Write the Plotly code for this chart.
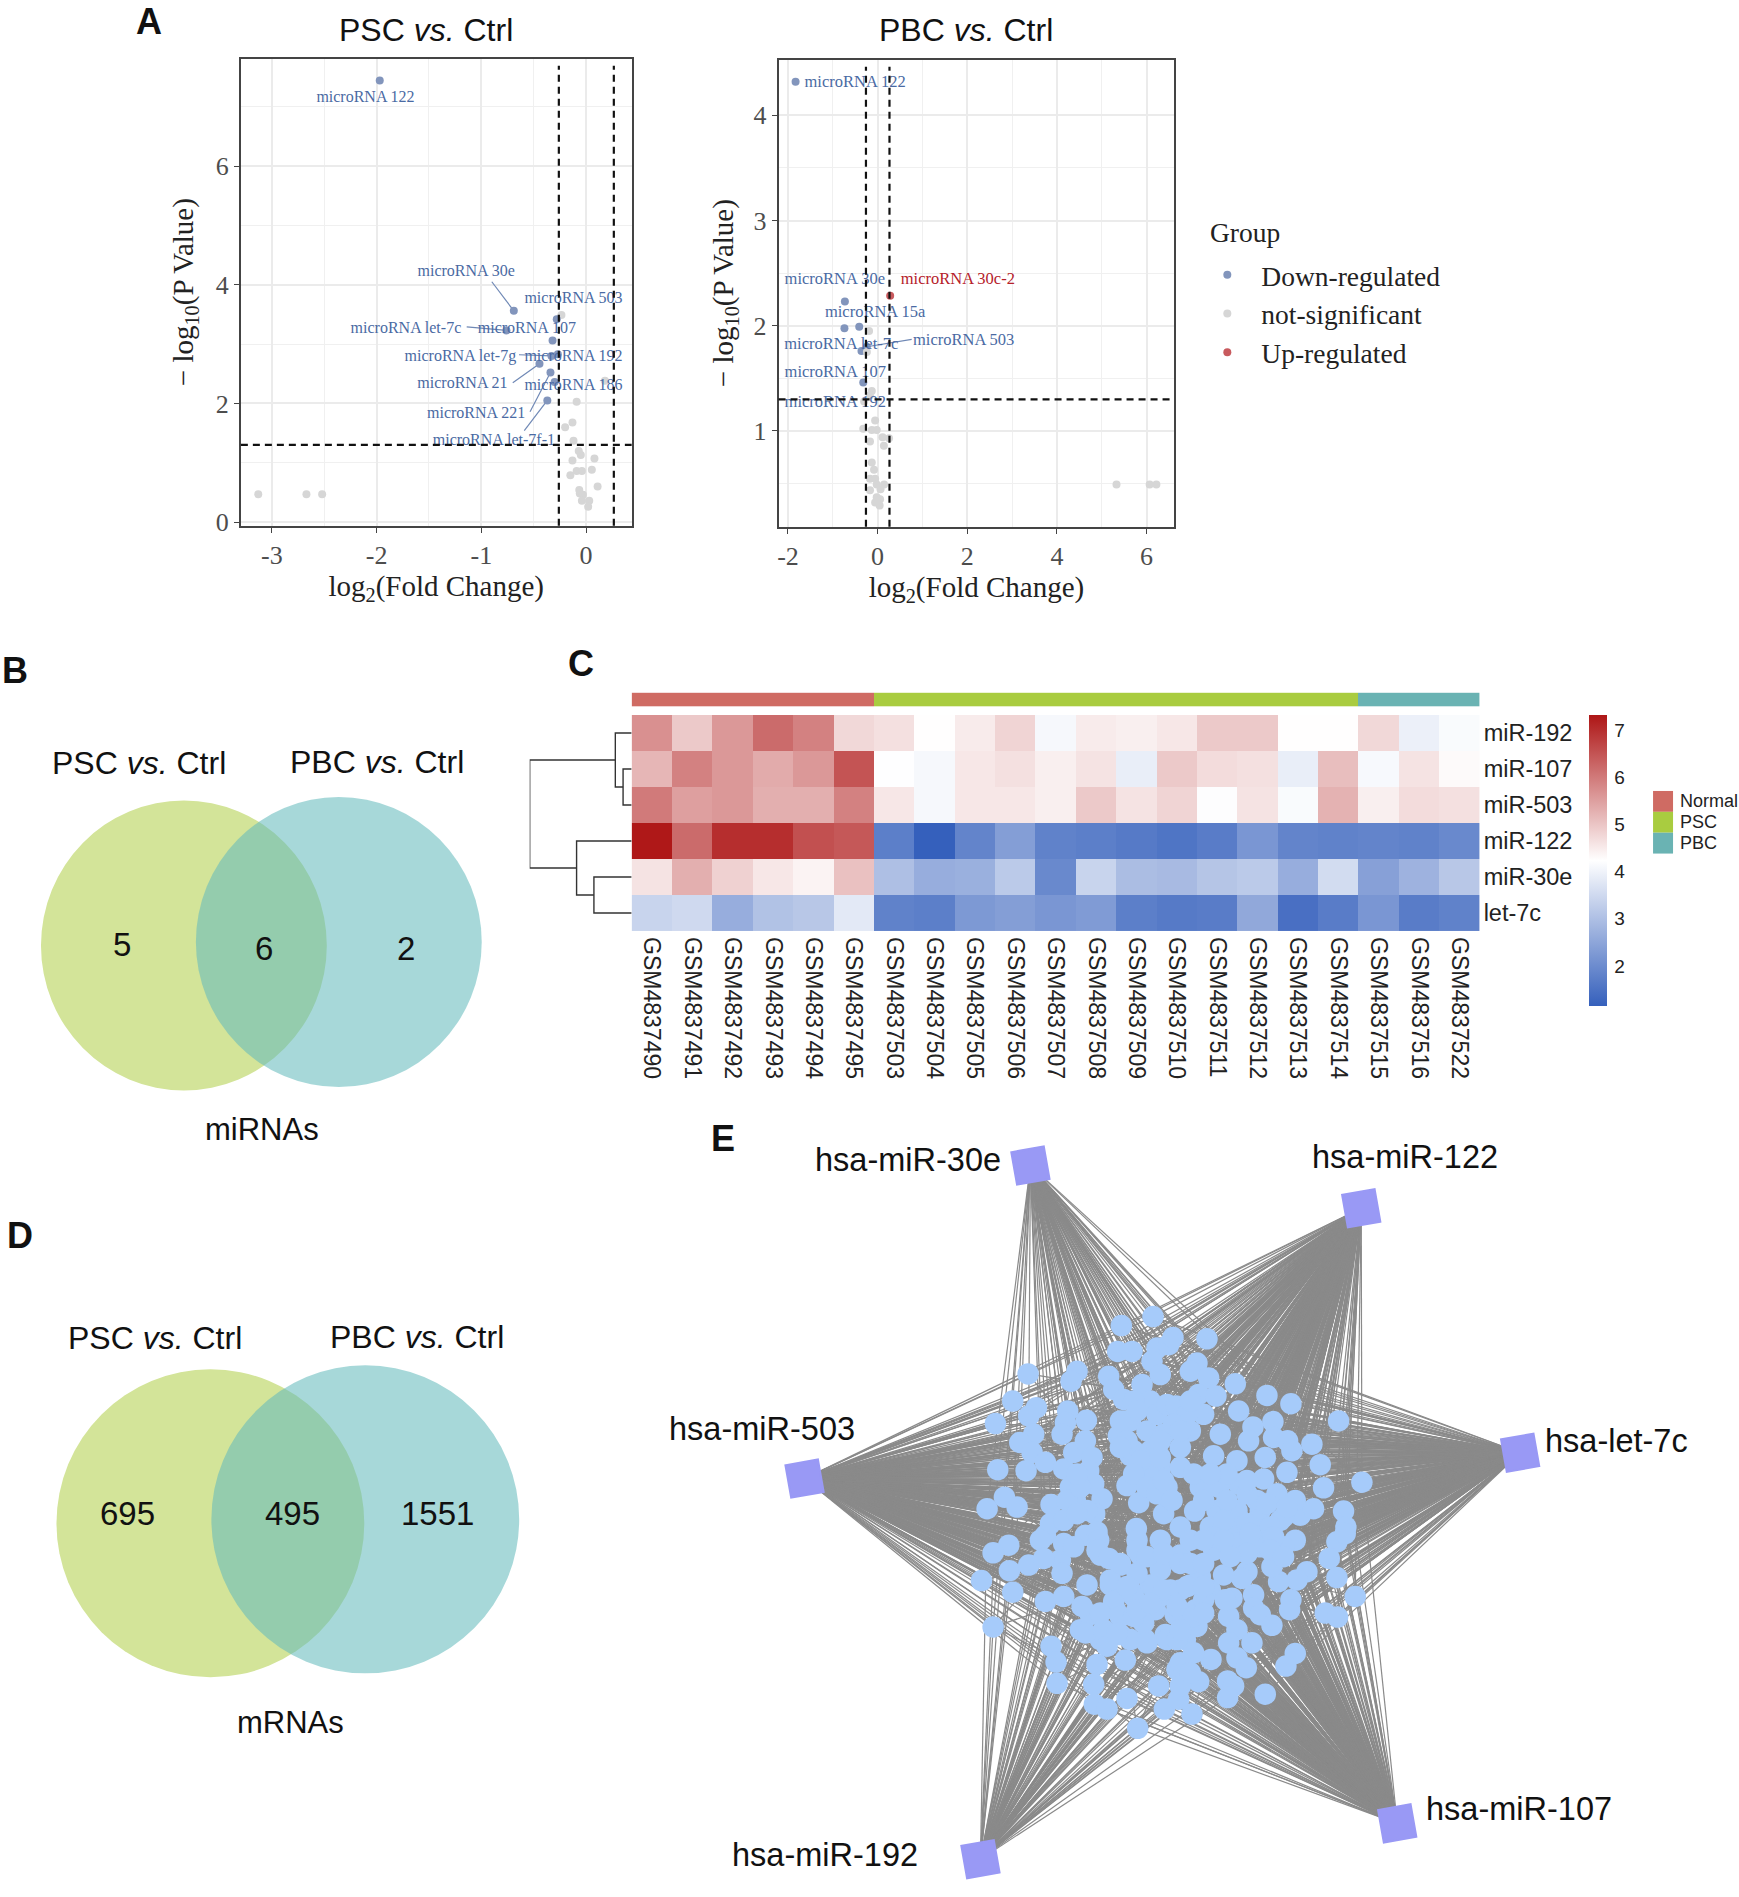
import plotly.graph_objects as go

W, H = 1739, 1897

# ---------- Panel A data ----------
psc_down_x = [-1.97, -0.69, -0.28, -0.76, -0.32, -0.27, -0.33, -0.445, -0.34, -0.30, -0.37]
psc_down_y = [7.44, 3.56, 3.42, 3.23, 3.06, 2.83, 2.80, 2.67, 2.52, 2.36, 2.05]
psc_ns_x = [-0.235, 0.18, -0.09, -0.13, -0.2, -0.12, -0.07, -0.05, 0.08, -0.13, -0.09, -0.04, 0.055, -0.15,
            0.11, -0.065, -0.06, -0.03, -0.04, 0.03, 0.02, -3.13, -2.67, -2.52]
psc_ns_y = [3.49, 2.38, 2.03, 1.68, 1.60, 1.37, 1.20, 1.13, 1.07, 1.04, 0.86, 0.86, 0.88, 0.79,
            0.60, 0.54, 0.48, 0.46, 0.36, 0.36, 0.26, 0.47, 0.47, 0.47]
psc_labels = ["microRNA 122", "microRNA 30e", "microRNA 503", "microRNA let-7c", "microRNA 107", "microRNA let-7g",
              "microRNA 192", "microRNA 21", "microRNA 186", "microRNA 221", "microRNA let-7f-1"]
psc_label_x = [-2.106, -1.145, -0.12, -1.72, -0.565, -1.2, -0.12, -1.18, -0.12, -1.05, -0.88]
psc_label_y = [7.15, 4.22, 3.76, 3.26, 3.26, 2.79, 2.78, 2.33, 2.29, 1.82, 1.36]
psc_conn_x = [-0.90, -0.69, None, -1.14, -0.76, None, -0.64, -0.33, None, -0.70, -0.445, None, -0.535, -0.34, None, -0.59, -0.37]
psc_conn_y = [4.05, 3.56, None, 3.29, 3.23, None, 2.82, 2.80, None, 2.35, 2.67, None, 1.86, 2.52, None, 1.54, 2.05]

pbc_down_x = [-1.83, -0.73, -0.41, -0.74, -0.36, -0.24, -0.32]
pbc_down_y = [4.32, 2.23, 1.99, 1.975, 1.76, 1.80, 1.46]
pbc_ns_x = [-0.19, -0.24, -0.13, -0.17, -0.3, -0.055, -0.32, -0.13, -0.02, -0.17, 0.11, 0.255, 0.14, -0.13, -0.08,
            -0.17, -0.055, -0.02, 0.145, 0.065, -0.17, -0.02, 0.055, -0.055, 0.045, 5.33, 6.07, 6.22]
pbc_ns_y = [1.95, 1.75, 1.38, 1.34, 1.28, 1.10, 1.02, 1.01, 1.01, 0.90, 0.94, 0.93, 0.86, 0.70, 0.63,
            0.545, 0.545, 0.49, 0.49, 0.445, 0.435, 0.37, 0.35, 0.32, 0.29, 0.49, 0.49, 0.49]
pbc_up_x = [0.28]
pbc_up_y = [2.285]
pbc_labels = ["microRNA 122", "microRNA 30e", "microRNA 15a", "microRNA let-7c", "microRNA 503", "microRNA 107", "microRNA 192"]
pbc_label_x = [-0.5, -0.955, -0.055, -0.81, 1.92, -0.945, -0.945]
pbc_label_y = [4.31, 2.44, 2.12, 1.82, 1.86, 1.55, 1.27]
pbc_up_label = ["microRNA 30c-2"]
pbc_up_label_x = [1.79]
pbc_up_label_y = [2.44]
pbc_conn_x = [0.76, -0.24]
pbc_conn_y = [1.87, 1.80]

fc_cut = [-0.26, 0.265]
p_cut = 1.30

# ---------- Panel C data ----------
samples = ["GSM4837490", "GSM4837491", "GSM4837492", "GSM4837493", "GSM4837494", "GSM4837495", "GSM4837503",
           "GSM4837504", "GSM4837505", "GSM4837506", "GSM4837507", "GSM4837508", "GSM4837509", "GSM4837510",
           "GSM4837511", "GSM4837512", "GSM4837513", "GSM4837514", "GSM4837515", "GSM4837516", "GSM4837522"]
mirnas = ["miR-192", "miR-107", "miR-503", "miR-122", "miR-30e", "let-7c"]
mir192 = [5.7, 4.95, 5.6, 6.2, 5.9, 4.75, 4.65, 4.25, 4.5, 4.8, 4.1, 4.5, 4.45, 4.55, 4.95, 4.95, 4.25, 4.25, 4.75, 3.95, 4.15]
mir107 = [5.2, 5.9, 5.6, 5.35, 5.6, 6.5, 4.22, 4.1, 4.55, 4.65, 4.45, 4.6, 3.9, 4.95, 4.7, 4.65, 3.9, 5.1, 4.12, 4.6, 4.3]
mir503 = [6.0, 5.5, 5.6, 5.3, 5.3, 5.9, 4.55, 4.1, 4.55, 4.55, 4.45, 4.95, 4.6, 4.8, 4.2, 4.6, 4.15, 5.25, 4.45, 4.7, 4.65]
mir122 = [7.3, 6.2, 7.0, 7.0, 6.55, 6.45, 1.75, 1.15, 1.85, 2.35, 1.8, 1.75, 1.65, 1.55, 1.7, 2.2, 1.85, 1.8, 1.85, 1.8, 1.95]
mir30e = [4.6, 5.3, 4.85, 4.55, 4.4, 5.05, 3.0, 2.65, 2.7, 3.2, 1.95, 3.4, 2.95, 2.9, 3.1, 3.2, 2.65, 3.55, 2.4, 2.75, 3.15]
let7c = [3.4, 3.5, 2.65, 3.05, 3.15, 3.8, 1.8, 1.75, 2.25, 2.35, 2.2, 2.3, 1.75, 1.65, 1.7, 2.55, 1.45, 1.7, 2.2, 1.7, 1.8]
sample_group = [0] * 6 + [1] * 12 + [2] * 3
group_names = ["Normal", "PSC", "PBC"]
group_colors = ["#CF6B63", "#A9CC40", "#6AB3B3"]
dend_x = [0, 0.084, 0.084, 0, None, 0, 0.16, 0.16, 0.084, None, 0, 0.37, 0.37, 0, None,
          0, 0.54, 0.54, 0.37, None, 0.16, 1.0, 1.0, 0.54]
dend_y = [1, 1, 2, 2, None, 0, 0, 1.5, 1.5, None, 4, 4, 5, 5, None, 3, 3, 4.5, 4.5, None, 0.75, 0.75, 3.75, 3.75]

# ---------- Panels B, D data ----------
venn_b_counts = ["5", "6", "2"]
venn_d_counts = ["695", "495", "1551"]

# ---------- Panel E data: node positions read per quadrant of the network picture, 3 units = 1 pixel ----------
hub_names = ["hsa-miR-30e", "hsa-miR-122", "hsa-let-7c", "hsa-miR-107", "hsa-miR-192", "hsa-miR-503"]
hub_x = [1030, 1361, 1520, 1397, 980, 804]
hub_y = [1173, 1216, 1462, 1835, 1871, 1488]
quad_nw = [(203,218),(157,300),(105,368),(350,210),(332,240),(483,72),(578,45),(472,150),(515,150),(590,140),(575,180),
           (445,225),(460,265),(490,295),(545,250),(600,220),(570,300),(520,300),(228,320),(205,345),(322,330),(315,365),
           (378,358),(305,400),(220,400),(178,425),(215,455),(255,485),(112,507),(197,510),(310,505),(340,455),(375,420),
           (395,470),(385,510),(480,400),(510,360),(560,390),(610,400),(520,450),(570,450),(500,555),(550,530),(600,500),
           (330,560),(400,550),(425,595),(345,600),(403,640),(272,612),(132,590),(170,620),(80,625),(535,607),(270,670),
           (310,660),(410,695),(528,685),(610,640),(625,590),(590,340),(620,310),(530,330),(625,130),(480,360),(590,450),(580,510),
           (540,480),(600,470),(500,420),(600,420),(480,440),(520,520),(560,560),(620,560),(320,600),(360,560),(380,630),(350,640),
           (590,580),(610,540),(350,520)]
quad_ne = [(8,108),(110,112),(80,185),(60,210),(115,230),(195,248),(85,280),(137,285),(290,283),(362,308),(505,360),(18,315),
           (205,330),(100,340),(50,340),(10,370),(60,390),(308,362),(248,378),(150,400),(235,420),(310,410),(352,420),(425,430),
           (365,450),(130,465),(200,480),(285,470),(450,492),(350,515),(575,545),(460,562),(30,440),(30,500),(90,560),(145,560),
           (205,550),(280,535),(320,580),(260,600),(375,600),(430,625),(520,632),(527,680),(73,632),(5,600),(140,630),(200,630),
           (260,660),(340,650),(30,680),(120,680),(195,680),(70,520),
           (100,600),(170,600),(230,580),(290,610),(350,620),(160,660),(230,670),(300,680),(170,520),(120,520),(230,540),(30,390),(60,300)]
quad_sw = [(145,45),(98,68),(147,122),(63,152),(157,187),(98,292),(240,30),(205,105),(250,85),(310,40),(340,50),(305,130),
           (415,30),(410,60),(445,85),(255,215),(310,200),(380,165),(365,230),(450,150),(460,215),(530,30),(600,30),(530,130),
           (600,120),(520,200),(600,200),(550,280),(510,330),(375,310),(430,300),(440,350),(272,350),(287,398),(290,462),(495,392),
           (410,405),(400,465),(402,525),(440,540),(500,508),(532,598),(595,470),(612,540),(480,260),(420,250),(530,60),
           (480,100),(560,80),(610,70),(580,170),(520,260),(470,310),(560,340),(620,330),(530,240),(610,180),(570,220),(500,170)]
quad_se = [(500,35),(525,10),(477,85),(500,143),(555,200),(410,125),(380,150),(325,155),(305,110),(230,125),(215,145),(160,135),
           (362,210),(358,240),(250,195),(250,235),(270,255),(305,287),(465,250),(502,262),(185,205),(175,260),(200,300),(245,340),
           (175,340),(375,372),(347,410),(200,385),(228,415),(122,390),(85,457),(172,455),(190,470),(172,505),(285,495),(65,555),
           (25,510),(60,30),(130,60),(200,40),(270,50),(340,50),(30,100),(90,140),(30,180),(100,210),(30,260),(80,290),(20,330),
           (70,370),(20,420),(30,470),(130,20),(240,10),(310,20),(165,210),
           (60,100),(100,100),(50,170),(100,170),(20,230),(70,260),(100,250),(30,300),(30,400),(60,430),(100,30),(160,30),(230,70),(300,60),(340,80),(180,80)]
quad_origin = [(960, 1310), (1170, 1310), (960, 1540), (1170, 1540)]
# solid core of the network, read directly in picture pixels
core_x = [1100, 1120, 1140, 1160, 1180, 1200, 1110, 1130, 1150, 1170, 1190, 1210, 1115, 1135, 1155, 1175, 1195, 1120, 1145, 1165, 1185,
          1220, 1240, 1260, 1280, 1300, 1230, 1255, 1275, 1295, 1118, 1130, 1142, 1125, 1045, 1065, 1085, 1060, 1080, 1100, 1090]
core_y = [1565, 1575, 1565, 1575, 1565, 1575, 1595, 1600, 1595, 1600, 1595, 1600, 1620, 1625, 1620, 1625, 1620, 1645, 1650, 1645, 1650,
          1520, 1530, 1520, 1530, 1525, 1550, 1550, 1555, 1550, 1445, 1465, 1480, 1430, 1545, 1555, 1545, 1570, 1640, 1650, 1625]

node_x, node_y = list(core_x), list(core_y)
for q, (ox, oy) in zip([quad_nw, quad_ne, quad_sw, quad_se], quad_origin):
    for a, b in q:
        node_x.append(ox + a / 3)
        node_y.append(oy + b / 3)

SERIF = "Liberation Serif"
SANS = "Liberation Sans"
BLUE_TXT = "#4A6AA3"
RED_TXT = "#B5212A"
DOWN = "#8295BC"
NS = "#D6D6D6"
UP = "#C85A5E"


def fx(px):
    return px / W


def fy(py):
    return 1 - py / H


def dom_x(a, b):
    return [a / W, b / W]


def dom_y(top, bottom):
    return [1 - bottom / H, 1 - top / H]


fig = go.Figure()

# ---- canvas for network, drawn first -----
for i, (hx, hy) in enumerate(zip(hub_x, hub_y)):
    stride = {0: 3, 4: 3}.get(i, 1)
    ex, ey = [], []
    for nx, ny in list(zip(node_x, node_y))[::stride]:
        ex += [hx, nx, None]
        ey += [hy, ny, None]
    fig.add_trace(go.Scatter(x=ex, y=ey, mode="lines", xaxis="x6", yaxis="y6", showlegend=False, hoverinfo="skip",
                             line=dict(color="#8A8A8A", width=1.2)))
fig.add_trace(go.Scatter(x=node_x, y=node_y, mode="markers", xaxis="x6", yaxis="y6", showlegend=False,
                         marker=dict(size=21.5, color="#A6CBFA")))
fig.add_trace(go.Scatter(x=hub_x, y=hub_y, mode="markers", xaxis="x6", yaxis="y6", showlegend=False, text=hub_names,
                         marker=dict(size=33, color="#9999F5", symbol="square", angle=-10,
                                     line=dict(color="#9999F5", width=2))))

# ---- volcano PSC -----
fig.add_trace(go.Scatter(x=psc_ns_x, y=psc_ns_y, mode="markers", xaxis="x", yaxis="y", showlegend=False, marker=dict(size=8, color=NS)))
fig.add_trace(go.Scatter(x=psc_conn_x, y=psc_conn_y, mode="lines", xaxis="x", yaxis="y", showlegend=False, line=dict(color="#6F88B5", width=1.2)))
fig.add_trace(go.Scatter(x=psc_down_x, y=psc_down_y, mode="markers", xaxis="x", yaxis="y", showlegend=False, marker=dict(size=8, color=DOWN)))
fig.add_trace(go.Scatter(x=psc_label_x, y=psc_label_y, text=psc_labels, mode="text", xaxis="x", yaxis="y", showlegend=False,
                         textfont=dict(family=SERIF, size=16, color=BLUE_TXT), textposition="middle center"))

# ---- volcano PBC -----
fig.add_trace(go.Scatter(x=pbc_down_x, y=pbc_down_y, mode="markers", xaxis="x2", yaxis="y2", name="Down-regulated", marker=dict(size=8, color=DOWN)))
fig.add_trace(go.Scatter(x=pbc_ns_x, y=pbc_ns_y, mode="markers", xaxis="x2", yaxis="y2", name="not-significant", marker=dict(size=8, color=NS)))
fig.add_trace(go.Scatter(x=pbc_up_x, y=pbc_up_y, mode="markers", xaxis="x2", yaxis="y2", name="Up-regulated", marker=dict(size=8, color=UP)))
fig.add_trace(go.Scatter(x=pbc_conn_x, y=pbc_conn_y, mode="lines", xaxis="x2", yaxis="y2", showlegend=False, line=dict(color="#6F88B5", width=1.2)))
fig.add_trace(go.Scatter(x=pbc_label_x, y=pbc_label_y, text=pbc_labels, mode="text", xaxis="x2", yaxis="y2", showlegend=False,
                         textfont=dict(family=SERIF, size=16.5, color=BLUE_TXT), textposition="middle center"))
fig.add_trace(go.Scatter(x=pbc_up_label_x, y=pbc_up_label_y, text=pbc_up_label, mode="text", xaxis="x2", yaxis="y2", showlegend=False,
                         textfont=dict(family=SERIF, size=16.5, color=RED_TXT), textposition="middle center"))

# ---- heatmap -----
colorscale = [[0, "#3560BC"], [0.5, "#FFFFFF"], [1, "#AE1616"]]
fig.add_trace(go.Heatmap(z=[mir192, mir107, mir503, mir122, mir30e, let7c], x=samples, y=mirnas, xaxis="x3", yaxis="y3",
                         zmin=1.15, zmax=7.32, colorscale=colorscale,
                         colorbar=dict(x=1589 / W, xanchor="left", xpad=0, ypad=0, y=fy(719.5), yanchor="top",
                                       len=291, lenmode="pixels", thickness=18, thicknessmode="pixels",
                                       outlinewidth=0, ticks="outside", ticklen=4, tickcolor="rgba(0,0,0,0)",
                                       tickvals=[2, 3, 4, 5, 6, 7],
                                       tickfont=dict(family=SANS, size=19, color="#222"))))
fig.add_trace(go.Heatmap(z=[sample_group], x=samples, y=["group"], xaxis="x4", yaxis="y4", showscale=False, zmin=0, zmax=2,
                         colorscale=[[0, group_colors[0]], [0.33, group_colors[0]], [0.33, group_colors[1]], [0.67, group_colors[1]],
                                     [0.67, group_colors[2]], [1, group_colors[2]]]))
fig.add_trace(go.Scatter(x=dend_x, y=dend_y, mode="lines", xaxis="x5", yaxis="y5", showlegend=False,
                         line=dict(color="#333", width=1.4)))

# ---- axes ----
grid = "#EBEBEB"


def vol_axis(dom, rng, vals, text, minor_vals, title, standoff, anchor):
    return dict(domain=dom, range=rng, anchor=anchor, tickmode="array", tickvals=vals, ticktext=text,
                showline=True, mirror=True, linecolor="#444", linewidth=1.8, ticks="outside", ticklen=5, tickcolor="#444",
                tickfont=dict(family=SERIF, size=26, color="#4D4D4D"), showgrid=True, gridcolor=grid, gridwidth=1.6,
                zeroline=False,
                minor=dict(tickmode="array", tickvals=minor_vals, showgrid=True, gridcolor="#F0F0F0", gridwidth=1, ticks=""),
                title=dict(text=title, standoff=standoff, font=dict(family=SERIF, size=29, color="#222")))


XT = "log<sub>2</sub>(Fold Change)"
YT = "− log<sub>10</sub>(P Value)"

layout = dict(
    width=W, height=H, margin=dict(l=0, r=0, t=0, b=0), paper_bgcolor="white", plot_bgcolor="rgba(0,0,0,0)",
    xaxis=vol_axis(dom_x(240, 631), [-3.296, 0.435], [-3, -2, -1, 0], ["-3", "-2", "-1", "0"], [-2.5, -1.5, -0.5], XT, 6, "y"),
    yaxis=vol_axis(dom_y(59, 529), [-0.06, 7.81], [0, 2, 4, 6], ["0", "2", "4", "6"], [1, 3, 5, 7], YT, 14, "x"),
    xaxis2=vol_axis(dom_x(778, 1174), [-2.21, 6.62], [-2, 0, 2, 4, 6], ["-2", "0", "2", "4", "6"], [-1, 1, 3, 5], XT, 6, "y2"),
    yaxis2=vol_axis(dom_y(60, 530), [0.09, 4.53], [1, 2, 3, 4], ["1", "2", "3", "4"], [0.5, 1.5, 2.5, 3.5], YT, 11, "x2"),
    xaxis3=dict(domain=dom_x(631, 1479.5), anchor="y3", tickangle=90, ticks="", showgrid=False, zeroline=False,
                ticklabelstandoff=5, tickfont=dict(family=SANS, size=23, color="#222"), type="category"),
    yaxis3=dict(domain=dom_y(719.5, 937), anchor="x3", side="right", autorange="reversed", ticks="", showgrid=False, zeroline=False,
                ticklabelstandoff=3, tickfont=dict(family=SANS, size=23.5, color="#222"), type="category"),
    xaxis4=dict(domain=dom_x(631, 1479.5), anchor="y4", visible=False, type="category"),
    yaxis4=dict(domain=dom_y(697, 711), anchor="x4", visible=False, type="category"),
    xaxis5=dict(domain=dom_x(529, 631), anchor="y5", visible=False, range=[1.0, 0]),
    yaxis5=dict(domain=dom_y(719.5, 937), anchor="x5", visible=False, range=[5.5, -0.5]),
    xaxis6=dict(domain=[0, 1], anchor="y6", visible=False, range=[0, W], fixedrange=True),
    yaxis6=dict(domain=[0, 1], anchor="x6", visible=False, range=[H, 0], fixedrange=True),
    legend=dict(x=1193 / W, y=fy(252), xanchor="left", yanchor="top", bgcolor="rgba(0,0,0,0)", itemwidth=58,
                font=dict(family=SERIF, size=27.5, color="#222"), tracegroupgap=0),
    font=dict(family=SANS),
)

# ---- dashed threshold lines ----
shapes = []
for xa, ya in (("x", "y"), ("x2", "y2")):
    for v in fc_cut:
        shapes.append(dict(type="line", xref=xa, yref=f"{ya} domain", x0=v, x1=v, y0=0, y1=0.985, layer="above",
                           line=dict(color="#111", width=2.2, dash="7px,5px")))
    shapes.append(dict(type="line", xref=f"{xa} domain", yref=ya, x0=0, x1=1, y0=p_cut, y1=p_cut, layer="above",
                       line=dict(color="#111", width=2.2, dash="7px,5px")))

# ---- venn circles ----
GREEN_FILL = "#D3E499"
BLUE_FILL = "rgba(101,187,188,0.57)"
venn_circles = [(183, 951.5, 143, 146, GREEN_FILL), (338, 948, 143, 146, BLUE_FILL),
                (209.5, 1533, 154, 155, GREEN_FILL), (364.5, 1529, 154, 155, BLUE_FILL)]
for cx, cy, rx, ry, col in venn_circles:
    shapes.append(dict(type="circle", xref="x6", yref="y6", x0=cx - rx, x1=cx + rx, y0=cy - ry, y1=cy + ry,
                       fillcolor=col, line=dict(width=0), layer="above"))

# ---- heatmap group legend swatches ----
for (top, bottom), col in zip([(796, 817), (817, 838), (838, 859)], group_colors):
    shapes.append(dict(type="rect", xref="paper", yref="paper", x0=fx(1653), x1=fx(1673), y0=fy(top), y1=fy(bottom),
                       fillcolor=col, line=dict(width=0)))
layout["shapes"] = shapes

# ---- texts ----
ann = []


def label(px, py, text, size, family=SANS, color="#111", xanchor="center"):
    ann.append(dict(x=fx(px), y=fy(py), xref="paper", yref="paper", text=text, showarrow=False, xanchor=xanchor, yanchor="middle",
                    font=dict(family=family, size=size, color=color)))


for (px, py), letter in zip([(148, 22), (14, 675), (580, 668), (19, 1243), (722, 1146)], "ABCDE"):
    label(px, py, f"<b>{letter}</b>", 36)
PSC_T = "PSC <i>vs.</i> Ctrl"
PBC_T = "PBC <i>vs.</i> Ctrl"
label(425, 30, PSC_T, 32)
label(966, 30, PBC_T, 32)
label(138, 768, PSC_T, 32)
label(376, 767, PBC_T, 32)
label(154, 1347, PSC_T, 32)
label(416, 1346, PBC_T, 32)
for (px, py), t in zip([(121, 951), (263, 955), (405, 955)], venn_b_counts):
    label(px, py, t, 33)
for (px, py), t in zip([(127, 1523), (292, 1523), (437, 1523)], venn_d_counts):
    label(px, py, t, 33)
label(261, 1137, "miRNAs", 31)
label(290, 1733, "mRNAs", 31)
for (px, py), t in zip([(908, 1167), (1405, 1164), (1616, 1450), (1519, 1821), (824, 1867), (761, 1438)], hub_names):
    label(px, py, t, 32.5)
for py, t in zip([806, 827, 848], group_names):
    label(1678, py, t, 18, xanchor="left", color="#222")
label(1245, 234, "Group", 27.5, family=SERIF, color="#222")
layout["annotations"] = ann

fig.update_layout(**layout)
fig.write_html("out.html", config=dict(displayModeBar=False), post_script="document.body.style.margin='0';")
